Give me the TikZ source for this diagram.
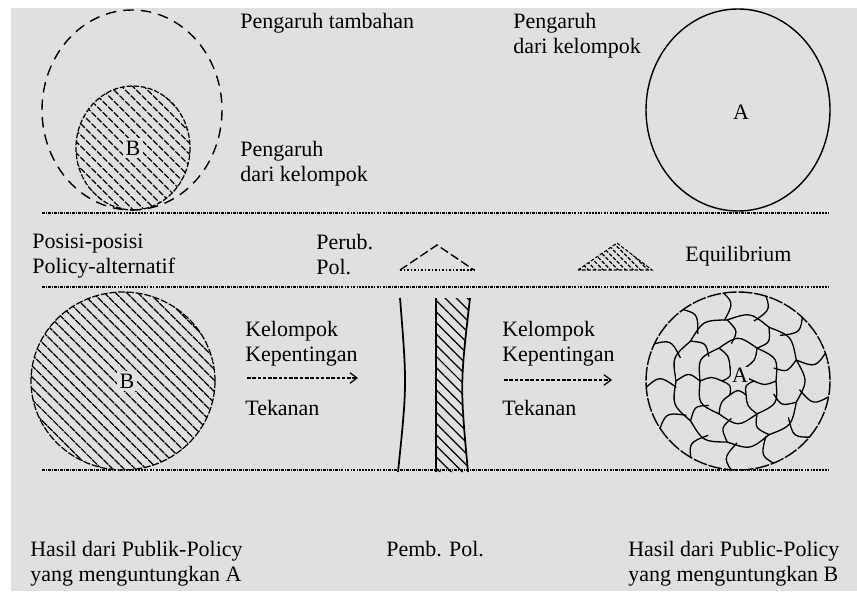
\documentclass[tikz,border=0pt]{standalone}
\usepackage{fontspec}
\setmainfont{Liberation Serif}
\usetikzlibrary{arrows.meta,patterns.meta,calc}
\definecolor{paper}{HTML}{E0E0E0}
\tikzset{
  sep/.style={line width=0.8pt,dash pattern=on 1.6pt off 0.6pt on 0.6pt off 0.6pt},
  lbl/.style={anchor=north west,inner sep=0pt,align=left,font=\fontsize{12.5}{14.2}\selectfont},
  letter/.style={fill=paper,inner sep=1.5pt,font=\fontsize{12.5}{14}\selectfont},
  hatch/.style={pattern={Lines[angle=-45,distance=4.5pt,line width=0.7pt]}},
  cell/.style={line width=0.75pt},
  push/.style={line width=0.7pt,dash pattern=on 2pt off 1pt,-{Straight Barb[length=4pt,width=6pt]}}
}
\begin{document}
\begin{tikzpicture}[x=0.02cm,y=-0.02cm]
\useasboundingbox (0,0) rectangle (857,591);
\fill[paper] (11,8) rectangle (857,591);
\coordinate (tamb) at (132,110);
\coordinate (smallB) at (133,148);
\coordinate (topA) at (738,110);
\coordinate (botB) at (123,381);
\coordinate (cellA) at (738,381);
% separators
\draw[sep] (42,213) -- (830,213);
\draw[sep] (42,287) -- (830,287);
\draw[sep] (42,470) -- (830,470);
% top row
\draw[line width=0.8pt,dash pattern=on 6pt off 4pt] (tamb) ellipse [x radius=90,y radius=100];
\draw[hatch,line width=0.7pt,dash pattern=on 3pt off 1pt] (smallB) ellipse [x radius=57,y radius=62];
\node[letter] (labB1) at (smallB) {B};
\draw[line width=0.8pt] (topA) ellipse [x radius=92,y radius=101];
\node[letter] (labA1) at ($(topA)+(3,2)$) {A};
\node[lbl] (tambahan) at (240,13) {Pengaruh tambahan};
\node[lbl] (pengB) at (240,141) {Pengaruh\\dari kelompok};
\node[lbl] (pengA) at (513,13) {Pengaruh\\dari kelompok};
% middle row
\node[lbl] (posisi) at (32,234) {Posisi-posisi\\Policy-alternatif};
\node[lbl] (perub) at (316,234) {Perub.\\Pol.};
\draw[line width=0.8pt,dash pattern=on 5pt off 2pt] (400,270) -- (437,245) -- (474,270);
\draw[line width=0.6pt,dash pattern=on 1pt off 1pt] (400,270) -- (474,270);
\draw[pattern={Lines[angle=-45,distance=3pt,line width=0.7pt]},line width=0.6pt,dash pattern=on 2pt off 1pt] (578,270) -- (617,243) -- (652,270) -- cycle;
\node[lbl,anchor=west] (equil) at (685,256) {Equilibrium};
% bottom row
\draw[hatch,line width=0.7pt,dash pattern=on 4pt off 1pt] (botB) ellipse [x radius=92,y radius=89];
\node[letter] (labB2) at ($(botB)+(4,0)$) {B};
\node[lbl] (kelL) at (245,321) {Kelompok\\Kepentingan};
\coordinate (arrL0) at (247,378);
\coordinate (arrL1) at (358,378);
\draw[push] (arrL0) -- (arrL1);
\node[lbl,anchor=west] (tekL) at (245,408) {Tekanan};
% pillars
\draw[line width=1pt] (400,298) .. controls (407,385) .. (398,472);
\fill[hatch] (436,298) -- (470,298) .. controls (460,385) .. (468,472) -- (436,472) -- cycle;
\draw[line width=1pt] (436,298) -- (436,472);
\draw[line width=1pt] (470,298) .. controls (460,385) .. (468,472);
\node[lbl] (kelR) at (502,321) {Kelompok\\Kepentingan};
\coordinate (arrR0) at (504,380);
\coordinate (arrR1) at (612,380);
\draw[push] (arrR0) -- (arrR1);
\node[lbl,anchor=west] (tekR) at (502,408) {Tekanan};
% cells of A
\begin{scope}
\clip (cellA) ellipse [x radius=92,y radius=89];
\foreach \k/\n/\ra/\rb/\off in {1/6/16/38/0,2/9/38/62/20,3/13/62/96/8}{
  \foreach \j in {1,...,\n}{
    \pgfmathsetmacro\aa{\j*360/\n+\off}
    \pgfmathsetmacro\ab{\aa+360/\n}
    \pgfmathsetmacro\am{\aa+180/\n}
    \pgfmathsetmacro\rm{(\ra+\rb)/2}
    \draw[cell] ($(cellA)+(\aa:\rb)$) .. controls ($(cellA)+(\am:{\rb+8})$) .. ($(cellA)+(\ab:\rb)$);
    \draw[cell] ($(cellA)+(\aa:\ra)$) .. controls ($(cellA)+({\aa+10}:\rm)$) .. ($(cellA)+(\aa:\rb)$);
  }
}
\foreach \j in {1,...,6}{
  \draw[cell] ($(cellA)+({\j*60}:16)$) .. controls ($(cellA)+({\j*60+30}:8)$) .. ($(cellA)+({\j*60+60}:16)$);
}
\end{scope}
\draw[line width=0.8pt,dash pattern=on 8pt off 1pt] (cellA) ellipse [x radius=92,y radius=89];
\node[letter,inner sep=0.5pt] (labA2) at ($(cellA)+(2,-6)$) {A};
% captions
\node[lbl] (hasilA) at (30,541) {Hasil dari Publik-Policy\\yang menguntungkan A};
\node[lbl] (pemb) at (386,541) {Pemb. Pol.};
\node[lbl] (hasilB) at (628,541) {Hasil dari Public-Policy\\yang menguntungkan B};
\end{tikzpicture}
\end{document}
